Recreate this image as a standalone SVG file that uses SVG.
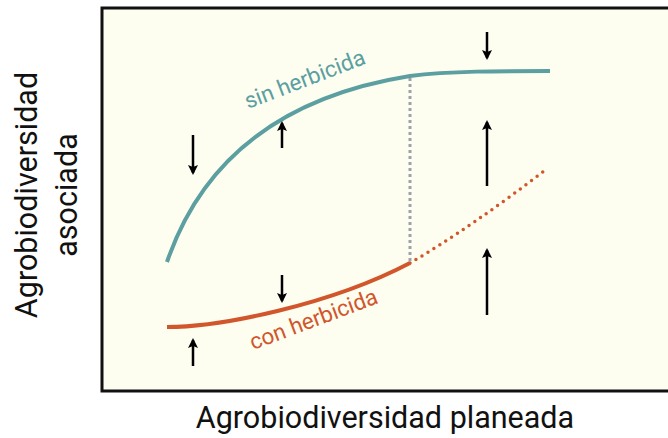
<svg xmlns="http://www.w3.org/2000/svg" width="668" height="438" viewBox="0 0 668 438">
<defs>
<style>
.lbl{font-family:Roboto,"Liberation Sans",sans-serif;}
.arr{stroke:#000;stroke-width:2.5;fill:none;marker-end:url(#ah);}
</style>
<marker id="ah" viewBox="0 0 10 10" refX="8" refY="5" markerWidth="4" markerHeight="4" markerUnits="strokeWidth" orient="auto">
<path d="M0,0 L10,5 L0,10 L2,5 Z" fill="#000"/>
</marker>
</defs>
<rect width="668" height="438" fill="#fff"/>
<rect x="102" y="8" width="580" height="383" fill="#fdfdf0"/>
<path d="M670,8 L102,8 L102,391 L670,391" fill="none" stroke="#111" stroke-width="3"/>
<g id="connectors">
<path d="M410,78 L410,262" stroke="#9ea3ab" stroke-width="3" stroke-dasharray="3 3" fill="none"/>
<path d="M410,263 C450,240 500,205 548,168" stroke="#d2562b" stroke-width="3.5" stroke-dasharray="0 7" stroke-linecap="round" fill="none"/>
<path d="M167,262 C195,180 260,100 410,76 C450,71 500,71 550,71" stroke="#5b9fa1" stroke-width="4" fill="none"/>
<path d="M167,327 C220,327 330,305 410,263" stroke="#d2562b" stroke-width="4" fill="none"/>
<path class="arr" d="M193,135 L193,173"/>
<path class="arr" d="M282,148 L282,123"/>
<path class="arr" d="M487,32 L487,58"/>
<path class="arr" d="M487,186 L487,122"/>
<path class="arr" d="M282,275 L282,301"/>
<path class="arr" d="M193,366 L193,340"/>
<path class="arr" d="M487,315 L487,250"/>
</g>
<g id="sin-herbicida">
<text class="lbl" x="0" y="0" font-size="22.5" fill="#5b9fa1" transform="translate(248,109) rotate(-21)">sin herbicida</text>
</g>
<g id="con-herbicida">
<text class="lbl" x="0" y="0" font-size="22.5" fill="#d2562b" transform="translate(253,350) rotate(-20.5)">con herbicida</text>
</g>
<g id="x-axis-label">
<text class="lbl" x="385" y="428" font-size="30.5" fill="#111" text-anchor="middle">Agrobiodiversidad planeada</text>
</g>
<g id="y-axis-label">
<text class="lbl" font-size="30.5" fill="#111" text-anchor="middle" transform="translate(37,195) rotate(-90)">Agrobiodiversidad</text>
<text class="lbl" font-size="30.5" fill="#111" text-anchor="middle" transform="translate(77,195) rotate(-90)">asociada</text>
</g>
</svg>
